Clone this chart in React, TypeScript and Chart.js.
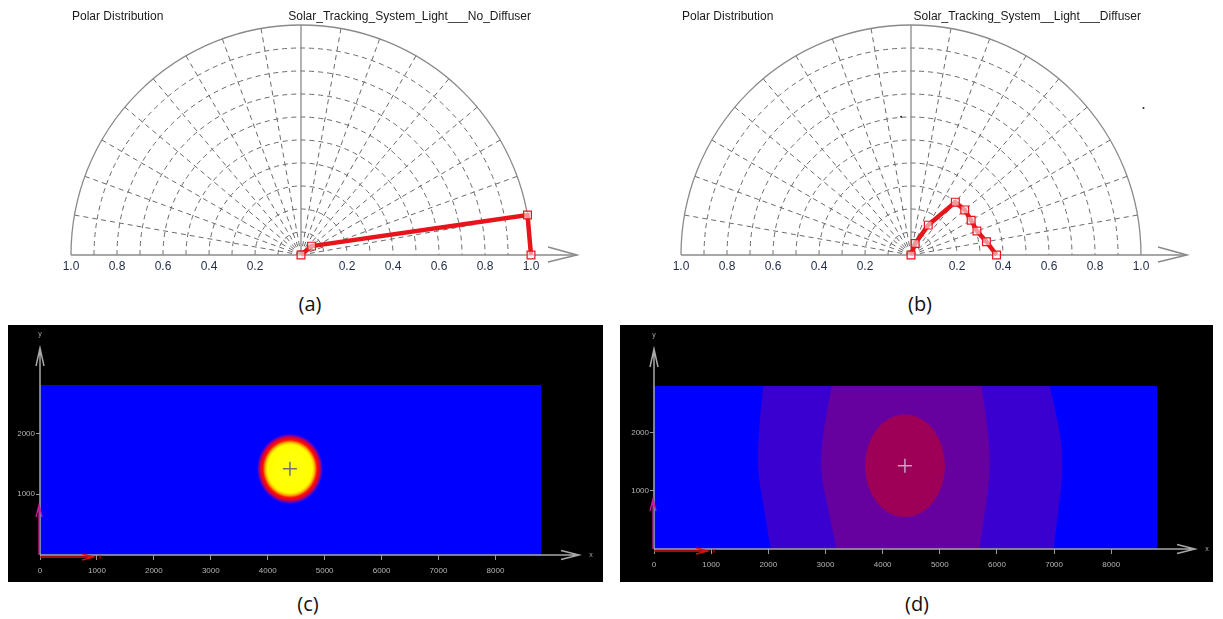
import React, { useEffect, useRef } from "react";
import { Chart, registerables } from "chart.js";

Chart.register(...registerables);

// ---------------- data ----------------
const POLAR_TICKS = [-1.0, -0.8, -0.6, -0.4, -0.2, 0, 0.2, 0.4, 0.6, 0.8, 1.0];
const GRID_RADII = [0.1, 0.2, 0.3, 0.4, 0.5, 0.6, 0.7, 0.8, 0.9];
const GRID_ANGLES = [10, 20, 30, 40, 50, 60, 70, 80, 100, 110, 120, 130, 140, 150, 160, 170];

const ANGLES_A = [90, 40, 10, 0];
const INTENSITY_A = [0, 0.06, 1.0, 1.0];

const ANGLES_B = [90, 70, 60, 50, 40, 30, 20, 10, 0];
const INTENSITY_B = [0, 0.053, 0.15, 0.3, 0.305, 0.302, 0.305, 0.333, 0.372];
const SPECK_B_X = [-0.043, 1.011];
const SPECK_B_Y = [0.601, 0.639];

const TITLE_LEFT = "Polar Distribution";
const TITLE_A = "Solar_Tracking_System_Light___No_Diffuser";
const TITLE_B = "Solar_Tracking_System__Light___Diffuser";

const MAP_X_TICKS = [0, 1000, 2000, 3000, 4000, 5000, 6000, 7000, 8000];
const MAP_Y_TICKS = [1000, 2000];
const FIELD_X = [0, 8800];
const FIELD_Y = [0, 2800];

const SPOT_C_CENTER = [4390, 1420];
const SPOT_C_RADIUS = 580;
const SPOT_C_STOPS = [0, 0.68, 0.75, 0.82, 0.89, 0.95, 1];
const SPOT_C_COLORS = ["#ffff10", "#ffff00", "#ffb000", "#ff1000", "#d8003a", "#6a00b0", "#0000ff"];

const CONTOUR_Y = [0, 700, 1400, 2100, 2800];
const BAND2_LEFT = [2040, 1925, 1800, 1840, 1910];
const BAND2_RIGHT = [6990, 7080, 7160, 7100, 6920];
const BAND3_LEFT = [3200, 3040, 2900, 2970, 3110];
const BAND3_RIGHT = [5690, 5800, 5890, 5840, 5730];
const CORE_D_CENTER = [4390, 1430];
const CORE_D_RADII = [700, 880];
const D_COLORS = ["#0000ff", "#3a00d0", "#66009f", "#9e0058"];

const DEG = Math.PI / 180;
const FONT = '"Liberation Sans", Arial, sans-serif';

function polarPoints(angles: number[], radii: number[]) {
  return angles.map((a, i) => ({ x: radii[i] * Math.cos(a * DEG), y: radii[i] * Math.sin(a * DEG) }));
}

// ---------------- plugins ----------------
const polarGridPlugin = {
  id: "polarGrid",
  beforeDatasetsDraw(chart: any, _args: any, opts: any) {
    const { ctx } = chart;
    const xs = chart.scales.x;
    const ys = chart.scales.y;
    const cx = xs.getPixelForValue(0);
    const cy = ys.getPixelForValue(0);
    const ux = xs.getPixelForValue(1) - cx;
    const uy = cy - ys.getPixelForValue(1);
    ctx.save();
    ctx.lineWidth = 1;
    ctx.strokeStyle = "#6a6a6a";
    ctx.setLineDash([5, 4]);
    GRID_RADII.forEach((r) => {
      ctx.beginPath();
      ctx.ellipse(cx, cy, r * ux, r * uy, 0, Math.PI, 2 * Math.PI);
      ctx.stroke();
    });
    GRID_ANGLES.forEach((a) => {
      const t = a * DEG;
      ctx.beginPath();
      ctx.moveTo(cx, cy);
      ctx.lineTo(cx + Math.cos(t) * ux, cy - Math.sin(t) * uy);
      ctx.stroke();
    });
    ctx.setLineDash([]);
    ctx.strokeStyle = "#8a8a8a";
    ctx.lineWidth = 1.3;
    ctx.beginPath();
    ctx.ellipse(cx, cy, ux, uy, 0, Math.PI, 2 * Math.PI);
    ctx.stroke();
    ctx.beginPath();
    ctx.moveTo(cx, cy);
    ctx.lineTo(cx, cy - uy);
    ctx.stroke();
    const tip = cx + 1.2 * ux;
    ctx.lineWidth = 1.5;
    ctx.beginPath();
    ctx.moveTo(cx - ux, cy);
    ctx.lineTo(tip, cy);
    ctx.stroke();
    ctx.beginPath();
    ctx.moveTo(tip - 0.126 * ux, cy - 8);
    ctx.lineTo(tip, cy);
    ctx.lineTo(tip - 0.126 * ux, cy + 7);
    ctx.stroke();
    ctx.fillStyle = "#1a1a1a";
    ctx.font = "12px " + FONT;
    ctx.textBaseline = "alphabetic";
    ctx.textAlign = "left";
    ctx.fillText(opts.left, cx - ux + 1, 19.5);
    ctx.textAlign = "right";
    ctx.fillText(opts.right, cx + ux, 19.5);
    ctx.restore();
  },
};

function curvePath(ctx: any, pts: number[][], first: boolean) {
  if (first) ctx.moveTo(pts[0][0], pts[0][1]);
  else ctx.lineTo(pts[0][0], pts[0][1]);
  for (let i = 1; i < pts.length - 1; i++) {
    const mx = (pts[i][0] + pts[i + 1][0]) / 2;
    const my = (pts[i][1] + pts[i + 1][1]) / 2;
    ctx.quadraticCurveTo(pts[i][0], pts[i][1], mx, my);
  }
  const l = pts[pts.length - 1];
  ctx.lineTo(l[0], l[1]);
}

function fillBand(ctx: any, xs: any, ys: any, left: number[], right: number[], color: string) {
  const L = CONTOUR_Y.map((v, i) => [xs.getPixelForValue(left[i]), ys.getPixelForValue(v)]);
  const R = CONTOUR_Y.map((v, i) => [xs.getPixelForValue(right[i]), ys.getPixelForValue(v)]).reverse();
  ctx.beginPath();
  curvePath(ctx, L, true);
  curvePath(ctx, R, false);
  ctx.closePath();
  ctx.fillStyle = color;
  ctx.fill();
}

function arrowLine(ctx: any, x0: number, y0: number, x1: number, y1: number, len: number, half: number) {
  const dx = x1 - x0;
  const dy = y1 - y0;
  const d = Math.hypot(dx, dy);
  const ux = dx / d;
  const uy = dy / d;
  ctx.beginPath();
  ctx.moveTo(x0, y0);
  ctx.lineTo(x1, y1);
  ctx.moveTo(x1 - ux * len - uy * half, y1 - uy * len + ux * half);
  ctx.lineTo(x1, y1);
  ctx.lineTo(x1 - ux * len + uy * half, y1 - uy * len - ux * half);
  ctx.stroke();
}

const mapPlugin = {
  id: "mapField",
  beforeDraw(chart: any) {
    const { ctx, width, height } = chart;
    ctx.save();
    ctx.fillStyle = "#000000";
    ctx.fillRect(0, 0, width, height);
    ctx.restore();
  },
  beforeDatasetsDraw(chart: any, _args: any, opts: any) {
    const { ctx } = chart;
    const xs = chart.scales.x;
    const ys = chart.scales.y;
    const x0 = xs.getPixelForValue(FIELD_X[0]);
    const x1 = xs.getPixelForValue(FIELD_X[1]);
    const y0 = ys.getPixelForValue(FIELD_Y[0]);
    const y1 = ys.getPixelForValue(FIELD_Y[1]);
    ctx.save();
    ctx.beginPath();
    ctx.rect(x0, y1, x1 - x0, y0 - y1);
    ctx.clip();
    if (opts.kind === "c") {
      ctx.fillStyle = "#0000ff";
      ctx.fillRect(x0, y1, x1 - x0, y0 - y1);
      const cx = xs.getPixelForValue(SPOT_C_CENTER[0]);
      const cy = ys.getPixelForValue(SPOT_C_CENTER[1]);
      const rx = xs.getPixelForValue(SPOT_C_CENTER[0] + SPOT_C_RADIUS) - cx;
      const ry = cy - ys.getPixelForValue(SPOT_C_CENTER[1] + SPOT_C_RADIUS);
      ctx.translate(cx, cy);
      ctx.scale(1, ry / rx);
      const g = ctx.createRadialGradient(0, 0, 0, 0, 0, rx);
      SPOT_C_STOPS.forEach((s, i) => g.addColorStop(s, SPOT_C_COLORS[i]));
      ctx.fillStyle = g;
      ctx.beginPath();
      ctx.arc(0, 0, rx, 0, Math.PI * 2);
      ctx.fill();
    } else {
      ctx.fillStyle = D_COLORS[0];
      ctx.fillRect(x0, y1, x1 - x0, y0 - y1);
      fillBand(ctx, xs, ys, BAND2_LEFT, BAND2_RIGHT, D_COLORS[1]);
      fillBand(ctx, xs, ys, BAND3_LEFT, BAND3_RIGHT, D_COLORS[2]);
      const cx = xs.getPixelForValue(CORE_D_CENTER[0]);
      const cy = ys.getPixelForValue(CORE_D_CENTER[1]);
      const rx = xs.getPixelForValue(CORE_D_CENTER[0] + CORE_D_RADII[0]) - cx;
      const ry = cy - ys.getPixelForValue(CORE_D_CENTER[1] + CORE_D_RADII[1]);
      ctx.beginPath();
      ctx.ellipse(cx, cy, rx, ry, 0, 0, Math.PI * 2);
      ctx.fillStyle = D_COLORS[3];
      ctx.fill();
    }
    ctx.restore();
  },
  afterDraw(chart: any) {
    const { ctx, chartArea } = chart;
    const xs = chart.scales.x;
    const ys = chart.scales.y;
    const ox = xs.getPixelForValue(0);
    const oy = ys.getPixelForValue(0);
    const tipX = chartArea.right + 38;
    const tipY = chartArea.top - 37;
    ctx.save();
    ctx.strokeStyle = "#a8a8a8";
    ctx.lineWidth = 1.5;
    arrowLine(ctx, ox, oy, tipX, oy, 18, 4.5);
    arrowLine(ctx, ox, oy, ox, tipY, 18, 4);
    ctx.fillStyle = "#a8a8a8";
    ctx.font = "7px " + FONT;
    ctx.textAlign = "center";
    ctx.textBaseline = "middle";
    ctx.fillText("x", tipX + 12, oy);
    ctx.fillText("y", ox, tipY - 14);
    ctx.strokeStyle = "#d41010";
    ctx.lineWidth = 1.3;
    arrowLine(ctx, ox, oy + 2, ox + 54, oy + 2, 12, 3);
    ctx.fillStyle = "#d41010";
    ctx.fillText("x", ox + 60, oy + 2);
    ctx.strokeStyle = "#c41e9a";
    arrowLine(ctx, ox - 1, oy, ox - 1, oy - 50, 12, 3);
    ctx.restore();
  },
};

// ---------------- components ----------------
function PolarPanel(props: any) {
  const ref = useRef<HTMLCanvasElement | null>(null);
  useEffect(() => {
    if (!ref.current) return;
    const datasets: any[] = [
      {
        data: polarPoints(props.angles, props.radii),
        showLine: true,
        borderColor: "#e8141c",
        borderWidth: 4.5,
        pointStyle: "rect",
        pointRadius: 5.5,
        pointBorderColor: "#e8141c",
        pointBorderWidth: 1.2,
        pointBackgroundColor: "rgba(255,255,255,0.55)",
        clip: false,
      },
    ];
    if (props.speckX) {
      datasets.push({
        data: props.speckX.map((v: number, i: number) => ({ x: v, y: props.speckY[i] })),
        pointRadius: 1,
        pointBackgroundColor: "#222",
        pointBorderWidth: 0,
        showLine: false,
        clip: false,
      });
    }
    const chart = new Chart(ref.current, {
      type: "scatter",
      data: { datasets },
      options: {
        animation: false,
        responsive: false,
        devicePixelRatio: 1,
        events: [],
        layout: { padding: { left: 71, right: props.padRight, top: 25, bottom: 0 } },
        plugins: {
          legend: { display: false },
          tooltip: { enabled: false },
          polarGrid: { left: TITLE_LEFT, right: props.title },
        } as any,
        scales: {
          x: {
            type: "linear",
            min: -1,
            max: 1,
            grid: { display: false, drawTicks: false },
            border: { display: false },
            ticks: {
              color: "#1f2b47",
              font: { family: FONT, size: 12 },
              padding: 4,
              autoSkip: false,
              maxRotation: 0,
              callback: (v: any) => (Math.abs(v) < 1e-9 ? "" : Math.abs(v).toFixed(1)),
            },
            afterBuildTicks: (s: any) => {
              s.ticks = POLAR_TICKS.map((v) => ({ value: v }));
            },
            afterFit: (s: any) => {
              s.height = 35;
            },
          },
          y: { type: "linear", min: 0, max: 1, display: false },
        },
      },
      plugins: [polarGridPlugin],
    } as any);
    return () => chart.destroy();
  }, []);
  return (
    <canvas
      ref={ref}
      width={props.width}
      height={290}
      style={{ position: "absolute", left: props.left, top: 0, width: props.width, height: 290 }}
    />
  );
}

function MapPanel(props: any) {
  const ref = useRef<HTMLCanvasElement | null>(null);
  useEffect(() => {
    if (!ref.current) return;
    const center = props.kind === "c" ? SPOT_C_CENTER : CORE_D_CENTER;
    const chart = new Chart(ref.current, {
      type: "scatter",
      data: {
        datasets: [
          {
            data: [{ x: center[0], y: center[1] }],
            pointStyle: "cross",
            pointRadius: 7,
            pointBorderColor: props.kind === "c" ? "#707070" : "#c8a2c8",
            pointBorderWidth: 1.5,
            showLine: false,
          },
        ],
      },
      options: {
        animation: false,
        responsive: false,
        devicePixelRatio: 1,
        events: [],
        layout: { padding: { left: 0, right: props.padRight, top: props.padTop, bottom: 0 } },
        plugins: {
          legend: { display: false },
          tooltip: { enabled: false },
          mapField: { kind: props.kind },
        } as any,
        scales: {
          x: {
            type: "linear",
            min: FIELD_X[0],
            max: FIELD_X[1],
            grid: { display: true, drawOnChartArea: false, drawTicks: true, tickLength: 5, color: "#9a9a9a" },
            border: { display: false },
            ticks: {
              color: "#b4b4b4",
              font: { family: FONT, size: 8 },
              padding: 6,
              autoSkip: false,
              maxRotation: 0,
              callback: (v: any) => String(v),
            },
            afterBuildTicks: (s: any) => {
              s.ticks = MAP_X_TICKS.map((v) => ({ value: v }));
            },
            afterFit: (s: any) => {
              s.height = props.xHeight;
            },
          },
          y: {
            type: "linear",
            min: FIELD_Y[0],
            max: FIELD_Y[1],
            grid: { display: true, drawOnChartArea: false, drawTicks: true, tickLength: 4, color: "#9a9a9a" },
            border: { display: false },
            ticks: {
              color: "#b4b4b4",
              font: { family: FONT, size: 8 },
              padding: 1,
              autoSkip: false,
              callback: (v: any) => String(v),
            },
            afterBuildTicks: (s: any) => {
              s.ticks = MAP_Y_TICKS.map((v) => ({ value: v }));
            },
            afterFit: (s: any) => {
              s.width = props.yWidth;
            },
          },
        },
      },
      plugins: [mapPlugin],
    } as any);
    return () => chart.destroy();
  }, []);
  return (
    <canvas
      ref={ref}
      width={props.width}
      height={257}
      style={{ position: "absolute", left: props.left, top: 325, width: props.width, height: 257 }}
    />
  );
}

function Caption(props: any) {
  return (
    <div
      style={{
        position: "absolute",
        left: props.x,
        top: props.y,
        transform: "translate(-50%, -50%)",
        fontFamily: '"Open Sans", "Noto Sans", sans-serif',
        fontSize: 20,
        color: "#111",
        lineHeight: 1,
        whiteSpace: "nowrap",
      }}
    >
      {props.text}
    </div>
  );
}

export default function App() {
  return (
    <div
      style={{
        position: "absolute",
        left: 0,
        top: 0,
        width: 1223,
        height: 619,
        background: "#ffffff",
        overflow: "hidden",
      }}
    >
      <PolarPanel left={0} width={610} padRight={79} angles={ANGLES_A} radii={INTENSITY_A} title={TITLE_A} />
      <PolarPanel
        left={610}
        width={613}
        padRight={82}
        angles={ANGLES_B}
        radii={INTENSITY_B}
        title={TITLE_B}
        speckX={SPECK_B_X}
        speckY={SPECK_B_Y}
      />
      <MapPanel kind="c" left={8} width={595} padRight={62} padTop={60} xHeight={27} yWidth={32} />
      <MapPanel kind="d" left={620} width={593} padRight={56} padTop={61} xHeight={33} yWidth={34} />
      <Caption x={310} y={304} text="(a)" />
      <Caption x={920} y={304} text="(b)" />
      <Caption x={308} y={604} text="(c)" />
      <Caption x={917} y={604} text="(d)" />
    </div>
  );
}
